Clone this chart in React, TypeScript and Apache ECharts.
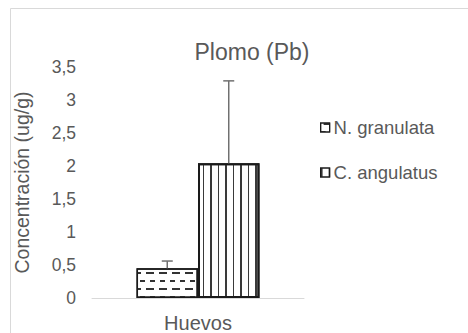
import React, { useEffect, useRef } from "react";
import * as echarts from "echarts";

const categories = ["Huevos"];
const seriesNames = ["N. granulata", "C. angulatus"];
const nGranulata = [0.45];
const cAngulatus = [2.04];
const nGranulataErr = [0.11];
const cAngulatusErr = [1.25];
const yTicks = { min: 0, max: 3.5, interval: 0.5 };

const FONT = "'Liberation Sans', Arial, sans-serif";
const GAP = 0.42;

export default function App() {
  const ref = useRef<HTMLDivElement>(null);
  useEffect(() => {
    const chart = echarts.init(ref.current!, null, { renderer: "svg" });
    const errData: number[][] = [];
    categories.forEach((_, i) => {
      errData.push([i, nGranulata[i], nGranulataErr[i], -1]);
      errData.push([i, cAngulatus[i], cAngulatusErr[i], 1]);
    });
    chart.setOption({
      animation: false,
      backgroundColor: "#ffffff",
      title: {
        text: "Plomo (Pb)",
        left: 247,
        top: 35,
        textAlign: "center",
        textStyle: { fontFamily: FONT, fontSize: 23, fontWeight: "normal", color: "#595959" },
      },
      legend: {
        orient: "vertical",
        left: 320,
        top: 118,
        itemWidth: 9,
        itemHeight: 9,
        itemGap: 26,
        padding: 0,
        icon: "rect",
        data: seriesNames,
        itemStyle: { borderWidth: 1.2, borderColor: "#1a1a1a" },
        textStyle: { fontFamily: FONT, fontSize: 18.5, color: "#595959", padding: [0, 0, 0, -1] },
      },
      grid: { left: 92, right: 164, top: 67, bottom: 34, containLabel: false },
      xAxis: {
        type: "category",
        data: categories,
        axisLine: { lineStyle: { color: "#d9d9d9", width: 1 } },
        axisTick: { show: false },
        axisLabel: { fontFamily: FONT, fontSize: 20, color: "#595959", margin: 15 },
      },
      yAxis: {
        type: "value",
        min: yTicks.min,
        max: yTicks.max,
        interval: yTicks.interval,
        name: "Concentración (ug/g)",
        nameLocation: "middle",
        nameGap: 60,
        nameRotate: 90,
        nameTextStyle: { fontFamily: FONT, fontSize: 19.5, color: "#595959" },
        axisLine: { show: false },
        axisTick: { show: false },
        splitLine: { show: false },
        axisLabel: {
          fontFamily: FONT,
          fontSize: 17.5,
          color: "#595959",
          margin: 16,
          formatter: (v: number) => String(v).replace(".", ","),
        },
      },
      series: [
        {
          name: seriesNames[0],
          type: "bar",
          data: nGranulata,
          barGap: "0%",
          barCategoryGap: GAP * 100 + "%",
          itemStyle: {
            color: "#ffffff",
            borderColor: "#1a1a1a",
            borderWidth: 1.5,
            decal: {
              symbol: "rect",
              symbolSize: 1,
              color: "#333333",
              backgroundColor: "#ffffff",
              dashArrayX: [[5, 5], [0, 3, 8, 2]],
              dashArrayY: [2, 5.3],
              rotation: 0,
            },
          },
        },
        {
          name: seriesNames[1],
          type: "bar",
          data: cAngulatus,
          barGap: "0%",
          barCategoryGap: GAP * 100 + "%",
          itemStyle: {
            color: "#ffffff",
            borderColor: "#1a1a1a",
            borderWidth: 2,
            decal: {
              symbol: "rect",
              symbolSize: 1,
              color: "#3a3a3a",
              backgroundColor: "#ffffff",
              dashArrayX: [[2, 5.75, 0.5, 5.75]],
              dashArrayY: [10, 0],
              rotation: 0,
            },
          },
        },
        {
          type: "custom",
          name: "err",
          z: 10,
          data: errData,
          renderItem: (params: any, api: any) => {
            const idx = api.value(0);
            const mean = api.value(1);
            const err = api.value(2);
            const side = api.value(3);
            const band = api.size([1, 0])[0];
            const barW = (band * (1 - GAP)) / 2;
            const base = api.coord([idx, mean]);
            const top = api.coord([idx, mean + err]);
            const x = base[0] + (side * barW) / 2;
            const cap = 5.5;
            const style = { stroke: "#707070", lineWidth: 1.5 };
            return {
              type: "group",
              children: [
                { type: "line", shape: { x1: x, y1: base[1], x2: x, y2: top[1] }, style },
                { type: "line", shape: { x1: x - cap, y1: top[1], x2: x + cap, y2: top[1] }, style },
              ],
            };
          },
        },
      ],
      graphic: [
        {
          type: "rect",
          shape: { x: 10.5, y: 8.5, width: 470, height: 340 },
          style: { fill: "none", stroke: "#d9d9d9", lineWidth: 1 },
          silent: true,
        },
      ],
    });
    return () => chart.dispose();
  }, []);
  return (
    <div
      ref={ref}
      style={{ position: "fixed", left: 0, top: 0, width: 468, height: 333, background: "#fff" }}
    />
  );
}
